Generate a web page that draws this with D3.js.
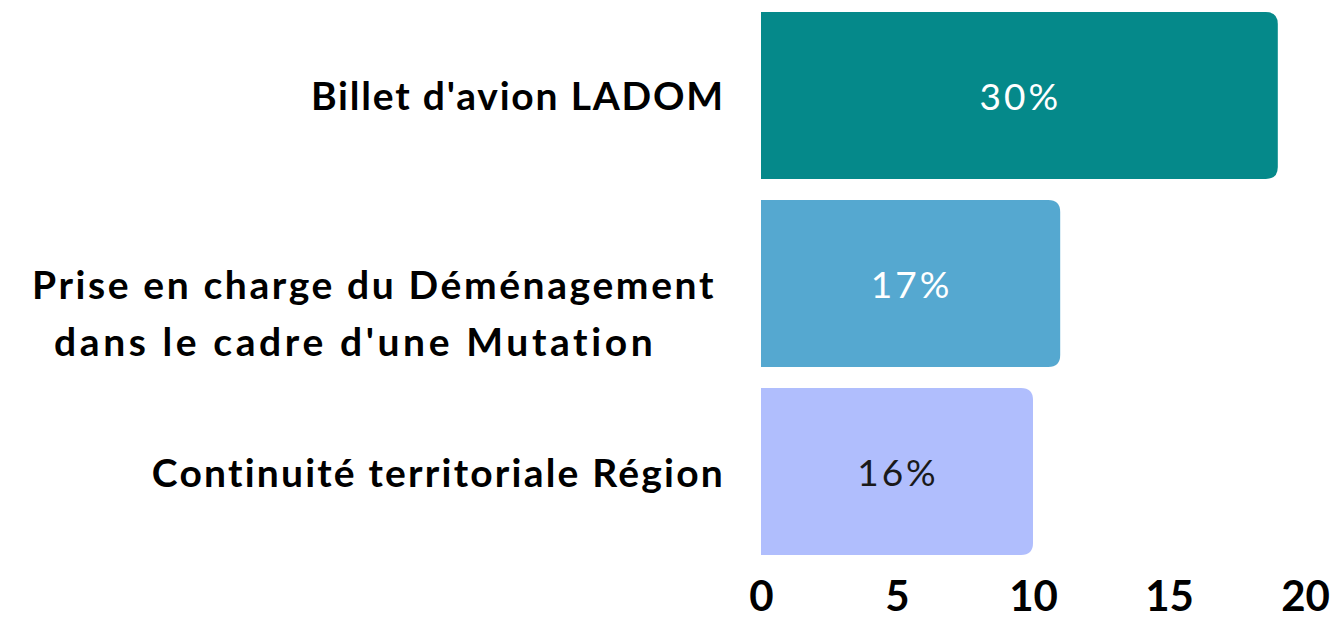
<!DOCTYPE html>
<html>
<head>
<meta charset="utf-8">
<script src="https://cdn.jsdelivr.net/npm/d3@7"></script>
<style>
  html, body { margin: 0; padding: 0; background: #fff; }
  svg { display: block; }
</style>
</head>
<body>
<svg id="chart" width="1338" height="620"></svg>
<script>
// MARK: Data.

const categories = [
  ['Billet d\'avion LADOM'],
  ['Prise en charge du Déménagement', 'dans le cadre d\'une Mutation'],
  ['Continuité territoriale Région'],
]
const values     = [19, 11, 10]
const valueTexts = ['30%', '17%', '16%']
const barColors  = ['#05898a', '#55a8d0', '#b0befd']
const textColors = ['#ffffff', '#ffffff', '#1a1a1a']
const xTicks     = [0, 5, 10, 15, 20]

// MARK: Layout constants.

const X0      = 761
const X1      = 1305
const TOP     = 12
const BOTTOM  = 555
const RADIUS  = 12
const LABEL_X = 725
const LINE_H  = 57
const FONT    = 'Lato, "Noto Sans", sans-serif'
// Lato is narrower than the original font, so widen the labels a little.
const LABEL_SPACING = [1.8, 2.6, 2.2]
const WRAP_SPACING  = 3.6

const svg = d3.select('#chart')

const x = d3.scaleLinear().domain([0, 20]).range([X0, X1])
const y = d3.scaleBand()
  .domain(d3.range(values.length))
  .range([TOP, BOTTOM])
  .paddingInner(0.112)
  .paddingOuter(0)

// Bar with only the right corners rounded.
function barPath(x0, x1, y0, h, r) {
  return `M${x0},${y0} H${x1 - r} Q${x1},${y0} ${x1},${y0 + r}` +
         ` V${y0 + h - r} Q${x1},${y0 + h} ${x1 - r},${y0 + h} H${x0} Z`
}

const rows = values.map((v, i) => ({
  i,
  value    : v,
  label    : categories[i],
  text     : valueTexts[i],
  color    : barColors[i],
  textColor: textColors[i],
}))

svg.append('g').attr('class', 'bars')
  .selectAll('path')
  .data(rows).enter()
  .append('path')
    .attr('d'   , (d) => barPath(x(0), x(d.value), y(d.i), y.bandwidth(), RADIUS))
    .attr('fill', (d) => d.color)

// Value labels, centred in each bar.
svg.append('g').attr('class', 'values')
  .selectAll('text')
  .data(rows).enter()
  .append('text')
    .attr('x'                , (d) => (x(0) + x(d.value)) / 2 + 1)
    .attr('y'                , (d) => y(d.i) + y.bandwidth() / 2)
    .attr('text-anchor'      , 'middle')
    .attr('dominant-baseline', 'central')
    .attr('font-family'      , FONT)
    .attr('font-size'        , 37)
    .attr('letter-spacing'   , 3)
    .attr('fill'             , (d) => d.textColor)
    .text((d) => d.text)

// Category labels on the left. First line sits on the bar centre.
const labels = svg.append('g').attr('class', 'labels')
rows.forEach((d) => {
  const cy    = y(d.i) + y.bandwidth() / 2
  const texts = labels.append('g')
    .selectAll('text')
    .data(d.label).enter()
    .append('text')
      .attr('y'                , (_, k) => cy + k * LINE_H)
      .attr('dominant-baseline', 'central')
      .attr('font-family'      , FONT)
      .attr('font-weight'      , 'bold')
      .attr('font-size'        , 39)
      .attr('letter-spacing'   , (_, k) => k > 0 ? WRAP_SPACING : LABEL_SPACING[d.i])
      .attr('fill'             , '#000')
      .text((t) => t)
  if (d.label.length === 1) {
    texts.attr('x', LABEL_X).attr('text-anchor', 'end')
  } else {
    // multi-line: left-aligned block, continuation lines slightly indented
    const maxW = d3.max(texts.nodes(), (n) => n.getComputedTextLength())
    texts.attr('x', (_, k) => LABEL_X - 9 - maxW + (k > 0 ? 22 : 0))
      .attr('text-anchor', 'start')
  }
})

// X axis: tick labels only.
const axis = svg.append('g')
  .attr('transform', `translate(0, ${BOTTOM + 27})`)
  .call(d3.axisBottom(x).tickValues(xTicks).tickSize(0).tickPadding(0))
axis.select('.domain').remove()
axis.selectAll('text')
  .attr('font-family', FONT)
  .attr('font-weight', 'bold')
  .attr('font-size'  , 42)
  .attr('fill'       , '#000')
  .attr('dy'         , '0.68em')
</script>
</body>
</html>
